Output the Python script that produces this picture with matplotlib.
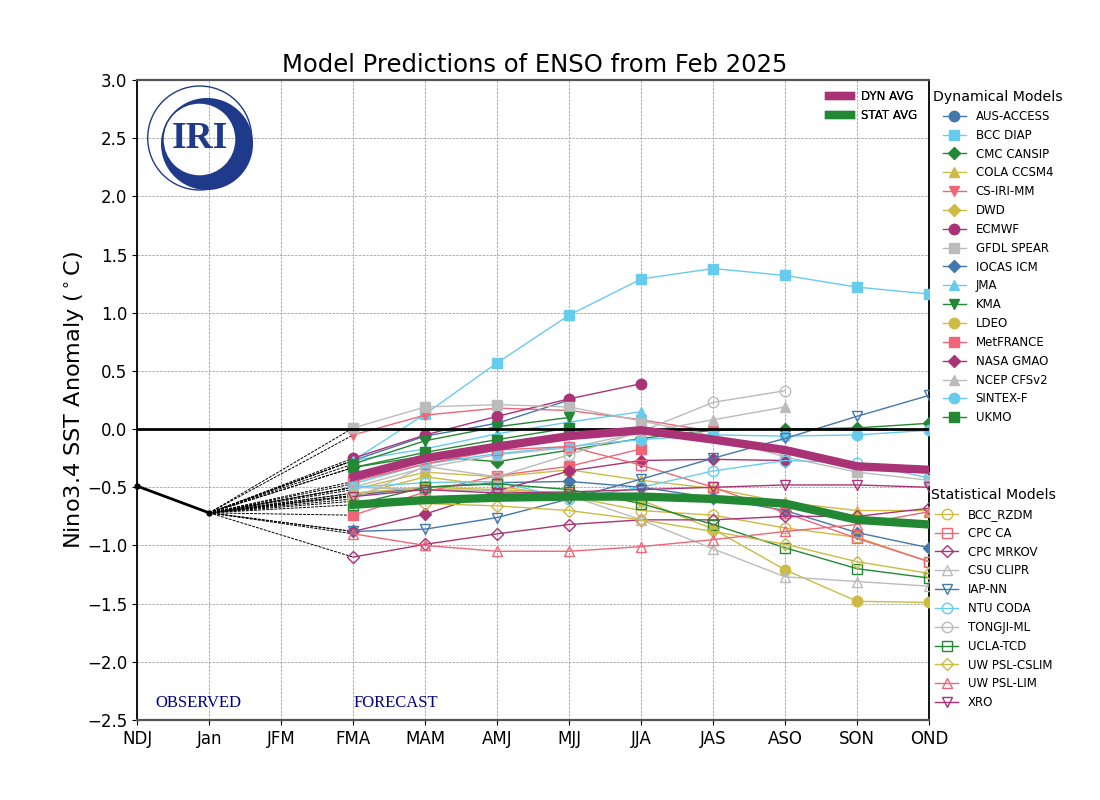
import numpy as np
import matplotlib
matplotlib.use("Agg")
import matplotlib.pyplot as plt
from matplotlib.path import Path
from matplotlib.patches import PathPatch, Circle

seasons = ["NDJ", "Jan", "JFM", "FMA", "MAM", "AMJ", "MJJ", "JJA", "JAS", "ASO", "SON", "OND"]
observed = [-0.49, -0.72]

# Forecast values, beginning at FMA
aus_access = [-0.27, -0.06, 0.05, 0.25]
bcc_diap = [-0.27, 0.13, 0.57, 0.98, 1.29, 1.38, 1.32, 1.22, 1.16]
cmc_cansip = [-0.33, -0.23, -0.28, -0.18, -0.08, -0.01, -0.00, 0.01, 0.05]
cola_ccsm4 = [-0.52, -0.37, -0.41, -0.35, -0.44, -0.51, -0.63, -0.70, -0.70]
cs_iri_mm = [-0.05, 0.12, 0.18, 0.16, 0.08, -0.02]
dwd = [-0.55, -0.52, -0.53, -0.57, -0.62]
ecmwf = [-0.25, -0.05, 0.11, 0.26, 0.39]
gfdl_spear = [0.01, 0.19, 0.21, 0.19, 0.07, -0.06, -0.24, -0.37, -0.44]
iocas_icm = [-0.57, -0.50, -0.46, -0.45, -0.50, -0.59, -0.70, -0.89, -1.02]
jma = [-0.27, -0.17, -0.04, 0.06, 0.15]
kma = [-0.30, -0.10, 0.02, 0.10]
ldeo = [-0.55, -0.50, -0.52, -0.55, -0.61, -0.86, -1.21, -1.48, -1.49]
metfrance = [-0.74, -0.54, -0.40, -0.32, -0.17]
nasa_gmao = [-0.88, -0.73, -0.53, -0.36, -0.27, -0.26, -0.27]
ncep_cfsv2 = [-0.50, -0.33, -0.22, -0.16, -0.03, 0.08, 0.19]
sintex_f = [-0.47, -0.30, -0.21, -0.15, -0.09, -0.05, -0.06, -0.05, -0.01]
ukmo = [-0.33, -0.20, -0.09, 0.01]

bcc_rzdm = [-0.57, -0.41, -0.49, -0.58, -0.70, -0.74, -0.85, -0.93, -1.14]
cpc_ca = [-0.45, -0.30, -0.18, -0.15, -0.31, -0.50, -0.72, -0.94, -1.14]
cpc_mrkov = [-1.10, -0.99, -0.90, -0.82, -0.78, -0.78, -0.75, -0.75, -0.68]
csu_clipr = [-0.50, -0.52, -0.53, -0.57, -0.78, -1.03, -1.27, -1.31, -1.35]
iap_nn = [-0.88, -0.86, -0.76, -0.60, -0.43, -0.25, -0.08, 0.11, 0.29]
ntu_coda = [-0.50, -0.46, -0.45, -0.60, -0.50, -0.36, -0.27, -0.29, -0.42]
tongji_ml = [-0.60, -0.32, -0.41, -0.22, -0.02, 0.23, 0.33]
ucla_tcd = [-0.65, -0.50, -0.47, -0.52, -0.64, -0.82, -1.02, -1.20, -1.28]
uw_psl_cslim = [-0.62, -0.64, -0.66, -0.70, -0.78, -0.88, -0.99, -1.14, -1.24]
uw_psl_lim = [-0.90, -1.00, -1.05, -1.05, -1.01, -0.95, -0.88, -0.82, -0.71]
xro = [-0.58, -0.52, -0.55, -0.54, -0.52, -0.50, -0.48, -0.48, -0.50]

dyn_avg = [-0.41, -0.25, -0.15, -0.06, -0.01, -0.09, -0.18, -0.32, -0.35]
stat_avg = [-0.65, -0.61, -0.59, -0.58, -0.58, -0.60, -0.64, -0.78, -0.82]

dyn_names = ["AUS-ACCESS", "BCC DIAP", "CMC CANSIP", "COLA CCSM4", "CS-IRI-MM", "DWD", "ECMWF",
             "GFDL SPEAR", "IOCAS ICM", "JMA", "KMA", "LDEO", "MetFRANCE", "NASA GMAO",
             "NCEP CFSv2", "SINTEX-F", "UKMO"]
dyn_values = [aus_access, bcc_diap, cmc_cansip, cola_ccsm4, cs_iri_mm, dwd, ecmwf, gfdl_spear,
              iocas_icm, jma, kma, ldeo, metfrance, nasa_gmao, ncep_cfsv2, sintex_f, ukmo]
stat_names = ["BCC_RZDM", "CPC CA", "CPC MRKOV", "CSU CLIPR", "IAP-NN", "NTU CODA", "TONGJI-ML",
              "UCLA-TCD", "UW PSL-CSLIM", "UW PSL-LIM", "XRO"]
stat_values = [bcc_rzdm, cpc_ca, cpc_mrkov, csu_clipr, iap_nn, ntu_coda, tongji_ml, ucla_tcd,
               uw_psl_cslim, uw_psl_lim, xro]

BLUE, CYAN, GREEN, YELLOW, PINK, PURPLE, GREY = "#4477AA", "#66CCEE", "#228833", "#CCBB44", "#EE6677", "#AA3377", "#BBBBBB"
dyn_style = [(BLUE, "o"), (CYAN, "s"), (GREEN, "D"), (YELLOW, "^"), (PINK, "v"), (YELLOW, "D"),
             (PURPLE, "o"), (GREY, "s"), (BLUE, "D"), (CYAN, "^"), (GREEN, "v"), (YELLOW, "o"),
             (PINK, "s"), (PURPLE, "D"), (GREY, "^"), (CYAN, "o"), (GREEN, "s")]
stat_style = [(YELLOW, "o"), (PINK, "s"), (PURPLE, "D"), (GREY, "^"), (BLUE, "v"), (CYAN, "o"),
              (GREY, "o"), (GREEN, "s"), (YELLOW, "D"), (PINK, "^"), (PURPLE, "v")]

fig = plt.figure(figsize=(11, 8), dpi=100)
ax = fig.add_axes([137.2 / 1100, 0.1, 792 / 1100, 0.8])
x = np.arange(len(seasons))
first = 3

ax.grid(True, color="#a0a0a0", ls="--", lw=0.6, dashes=(3, 1.5))
ax.set_axisbelow(True)

# dashed connectors from the last observed season to each first forecast
for v in dyn_values + stat_values:
    ax.plot([x[1], x[first]], [observed[1], v[0]], color="k", lw=0.7, ls="--", dashes=(3, 1.2), zorder=2)

dyn_handles, stat_handles = [], []
for name, v, (c, m) in zip(dyn_names, dyn_values, dyn_style):
    ln, = ax.plot(x[first:first + len(v)], v, color=c, marker=m, ms=7.5 if m != "D" else 6.5, lw=1,
                  mec=c, mfc=c, label=name, zorder=3)
    dyn_handles.append(ln)
for name, v, (c, m) in zip(stat_names, stat_values, stat_style):
    ln, = ax.plot(x[first:first + len(v)], v, color=c, marker=m, ms=7.5 if m != "D" else 6.5, lw=1,
                  mec=c, mfc="none", mew=1, label=name, zorder=3.5)
    stat_handles.append(ln)

ax.axhline(0, color="k", lw=2, zorder=4)
ax.plot(x[:2], observed, color="k", lw=2, marker="o", ms=3.5, clip_on=False, zorder=4)
h_dyn, = ax.plot(x[first:], dyn_avg, color=PURPLE, lw=6, label="DYN AVG", zorder=5)
h_stat, = ax.plot(x[first:], stat_avg, color=GREEN, lw=6, label="STAT AVG", zorder=5)

ax.set_xlim(0, 11)
ax.set_ylim(-2.5, 3.0)
ax.set_xticks(x)
ax.set_xticklabels(seasons, fontsize=12)
ax.set_yticks(np.arange(-2.5, 3.01, 0.5))
ax.tick_params(axis="y", labelsize=12)
ax.tick_params(axis="x", length=3.5)
ax.spines["left"].set_linewidth(1.3)
ax.spines["right"].set_linewidth(1.3)
ax.spines["top"].set(linewidth=1.6, color="#555555")
ax.spines["bottom"].set(linewidth=1.6, color="#555555")
ax.set_title("Model Predictions of ENSO from Feb 2025", fontsize=17.5, pad=6, x=0.502)
ax.set_ylabel("Nino3.4 SST Anomaly ($^\\circ$C)", fontsize=16.1, labelpad=0)

ax.text(0.25, -2.355, "OBSERVED", color="navy", family="Liberation Serif", fontsize=12, va="center")
ax.text(3.0, -2.355, "FORECAST", color="navy", family="Liberation Serif", fontsize=12, va="center")

avg_leg = ax.legend(handles=[h_dyn, h_stat], loc="upper right", frameon=False,
                    fontsize=8.5, labelspacing=0.55, handlelength=1.85, handletextpad=0.87, borderpad=0.4, borderaxespad=0.3)
avg_leg.set_bbox_to_anchor((0.9955, 0.9975), transform=ax.transAxes)
ax.add_artist(avg_leg)

leg_kw = dict(frameon=False, fontsize=8.5, title_fontsize=10.2, labelspacing=0.495, loc="upper left",
              handletextpad=0.8, handlelength=2.0, borderpad=0, borderaxespad=0)
leg1 = fig.legend(handles=dyn_handles, title="Dynamical Models",
                  bbox_to_anchor=(933 / 1100, 1 - 90 / 800), **leg_kw)
leg2 = fig.legend(handles=stat_handles, title="Statistical Models",
                  bbox_to_anchor=(931 / 1100, 1 - 488 / 800), **leg_kw)

# IRI logo drawn over the axes, in a layer measured in pixels
lg = fig.add_axes([0, 0, 1, 1], zorder=10)
lg.set_xlim(0, 1100)
lg.set_ylim(800, 0)
lg.axis("off")
lg.patch.set_alpha(0)
NAVY = "#1F3A8A"


def disc(cx, cy, r, sign=1):
    t = np.linspace(0, 2 * np.pi, 200)[::sign]
    return Path(np.column_stack([cx + r * np.cos(t), cy + r * np.sin(t)]), closed=False)


crescent = Path.make_compound_path(disc(207, 144, 46, 1), disc(199.5, 139.5, 36.5, -1))
lg.add_patch(PathPatch(crescent, fc=NAVY, ec="none"))
lg.add_patch(Circle((199.7, 138), 52, fc="none", ec=NAVY, lw=1.0))
lg.add_patch(Circle((199.5, 139.5), 36.5, fc="none", ec=NAVY, lw=1.0))
lg.text(200, 138.5, "IRI", family="Liberation Serif", fontsize=27, fontweight="bold", color=NAVY, ha="center", va="center")

fig.savefig("out.png", dpi=100)
